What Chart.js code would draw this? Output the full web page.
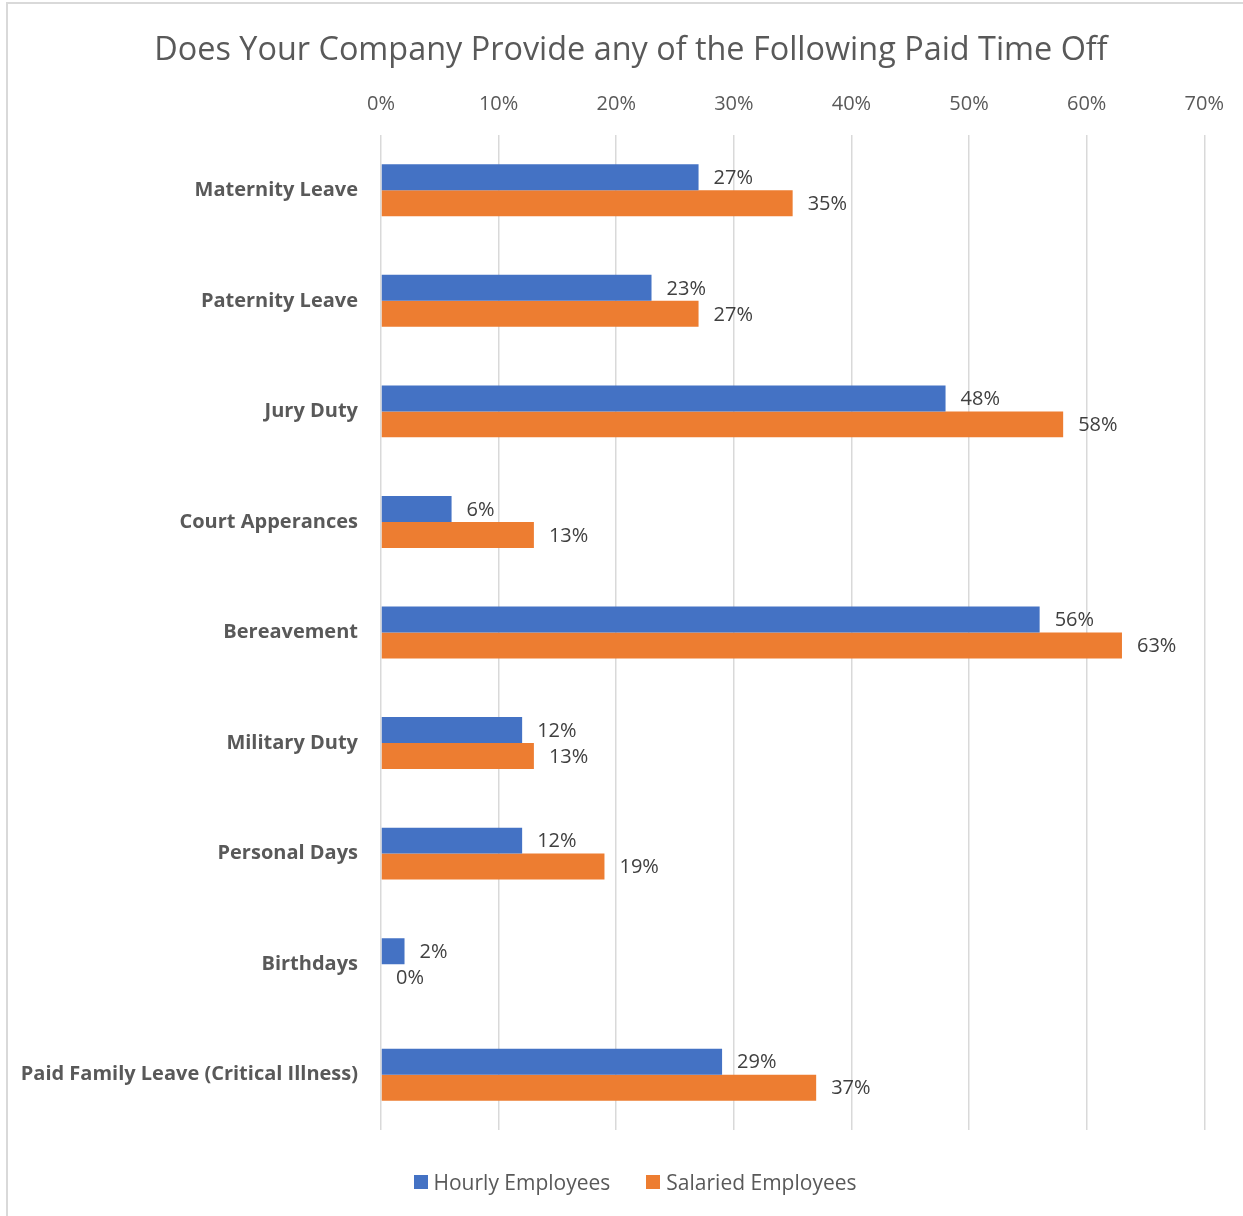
<!DOCTYPE html>
<html>
<head>
<meta charset="utf-8">
<script src="https://cdn.jsdelivr.net/npm/chart.js@4.4.1/dist/chart.umd.min.js"></script>
<style>
    html, body { margin: 0; padding: 0; background: #fff; overflow: hidden; font-family: "Open Sans", sans-serif; }
    #frame {
        position: absolute; left: 6px; top: 2px; width: 1300px; height: 1300px;
        border-left: 2px solid #d9d9d9; border-top: 2px solid #d9d9d9;
        box-sizing: border-box;
    }
    #wrap { position: absolute; left: 0; top: 0; width: 1243px; height: 1216px; }
    #title {
        position: absolute; left: 0; top: 27px; width: 1262px; text-align: center;
        font-size: 32.4px; line-height: 40px; color: #595959; white-space: nowrap;
    }
    #legend {
        position: absolute; left: 0; top: 1167px; width: 1270px;
        display: flex; justify-content: center; gap: 36px;
    }
</style>
</head>
<body>
<div id="frame"></div>
<div id="wrap"><canvas id="chart"></canvas></div>
<div id="title">Does Your Company Provide any of the Following Paid Time Off</div>
<div id="legend"></div>
<script>
// Paid time off survey, share of companies
const categories = [
    'Maternity Leave',
    'Paternity Leave',
    'Jury Duty',
    'Court Apperances',
    'Bereavement',
    'Military Duty',
    'Personal Days',
    'Birthdays',
    'Paid Family Leave (Critical Illness)'
];
const hourlyValues = [27, 23, 48, 6, 56, 12, 12, 2, 29];
const salariedValues = [35, 27, 58, 13, 63, 13, 19, 0, 37];
const xTicks = [0, 10, 20, 30, 40, 50, 60, 70];

const FONT = '"Open Sans", "Liberation Sans", sans-serif';

// Draws "NN%" just past the end of every bar
const barLabelPlugin = {
    id: 'barLabels',
    afterDatasetsDraw(chart) {
        const ctx = chart.ctx;
        ctx.save();
        ctx.font = `20px ${FONT}`;
        ctx.fillStyle = '#404040';
        ctx.textAlign = 'left';
        ctx.textBaseline = 'middle';
        chart.data.datasets.forEach((ds, i) => {
            const meta = chart.getDatasetMeta(i);
            meta.data.forEach((bar, j) => {
                ctx.fillText(ds.data[j] + '%', bar.x + 15, bar.y + 1);
            });
        });
        ctx.restore();
    }
};

// Legend as html so it can be centred like the original
const htmlLegendPlugin = {
    id: 'htmlLegend',
    afterUpdate(chart, args, options) {
        const container = document.getElementById(options.containerID);
        if (!container) return;
        const items = chart.options.plugins.legend.labels.generateLabels(chart);
        container.innerHTML = items.map(item => `
            <div style="display:flex;align-items:center;gap:6px;font-size:21px;line-height:30px;color:#595959;">
                <span style="width:14px;height:14px;background:${item.fillStyle};display:inline-block;"></span>
                <span>${item.text}</span>
            </div>
        `).join('');
    }
};

const canvas = document.getElementById('chart');
new Chart(canvas.getContext('2d'), {
    type: 'bar',
    data: {
        labels: categories,
        datasets: [
            {
                label: 'Hourly Employees',
                data: hourlyValues,
                backgroundColor: '#4472C4',
                barPercentage: 1,
                categoryPercentage: 0.47
            },
            {
                label: 'Salaried Employees',
                data: salariedValues,
                backgroundColor: '#ED7D31',
                barPercentage: 1,
                categoryPercentage: 0.47
            }
        ]
    },
    options: {
        indexAxis: 'y',
        responsive: true,
        maintainAspectRatio: false,
        animation: false,
        layout: { padding: { left: 10, right: 38, top: 73, bottom: 86 } },
        plugins: {
            title: { display: false },
            legend: { display: false },
            htmlLegend: { containerID: 'legend' },
            tooltip: { enabled: false }
        },
        scales: {
            x: {
                position: 'top',
                min: 0,
                max: 70,
                afterBuildTicks: axis => { axis.ticks = xTicks.map(v => ({ value: v })); },
                ticks: {
                    color: '#595959',
                    font: { family: FONT, size: 20 },
                    padding: 19,
                    callback: v => v + '%'
                },
                grid: { color: '#d9d9d9', lineWidth: 1.5, drawTicks: false },
                border: { display: false }
            },
            y: {
                afterFit: axis => { axis.width = 371; },
                ticks: {
                    color: '#595959',
                    font: { family: FONT, size: 20, weight: 'bold' },
                    padding: 23
                },
                grid: { display: false, drawTicks: false },
                border: { display: false }
            }
        }
    },
    plugins: [barLabelPlugin, htmlLegendPlugin]
});
</script>
</body>
</html>
